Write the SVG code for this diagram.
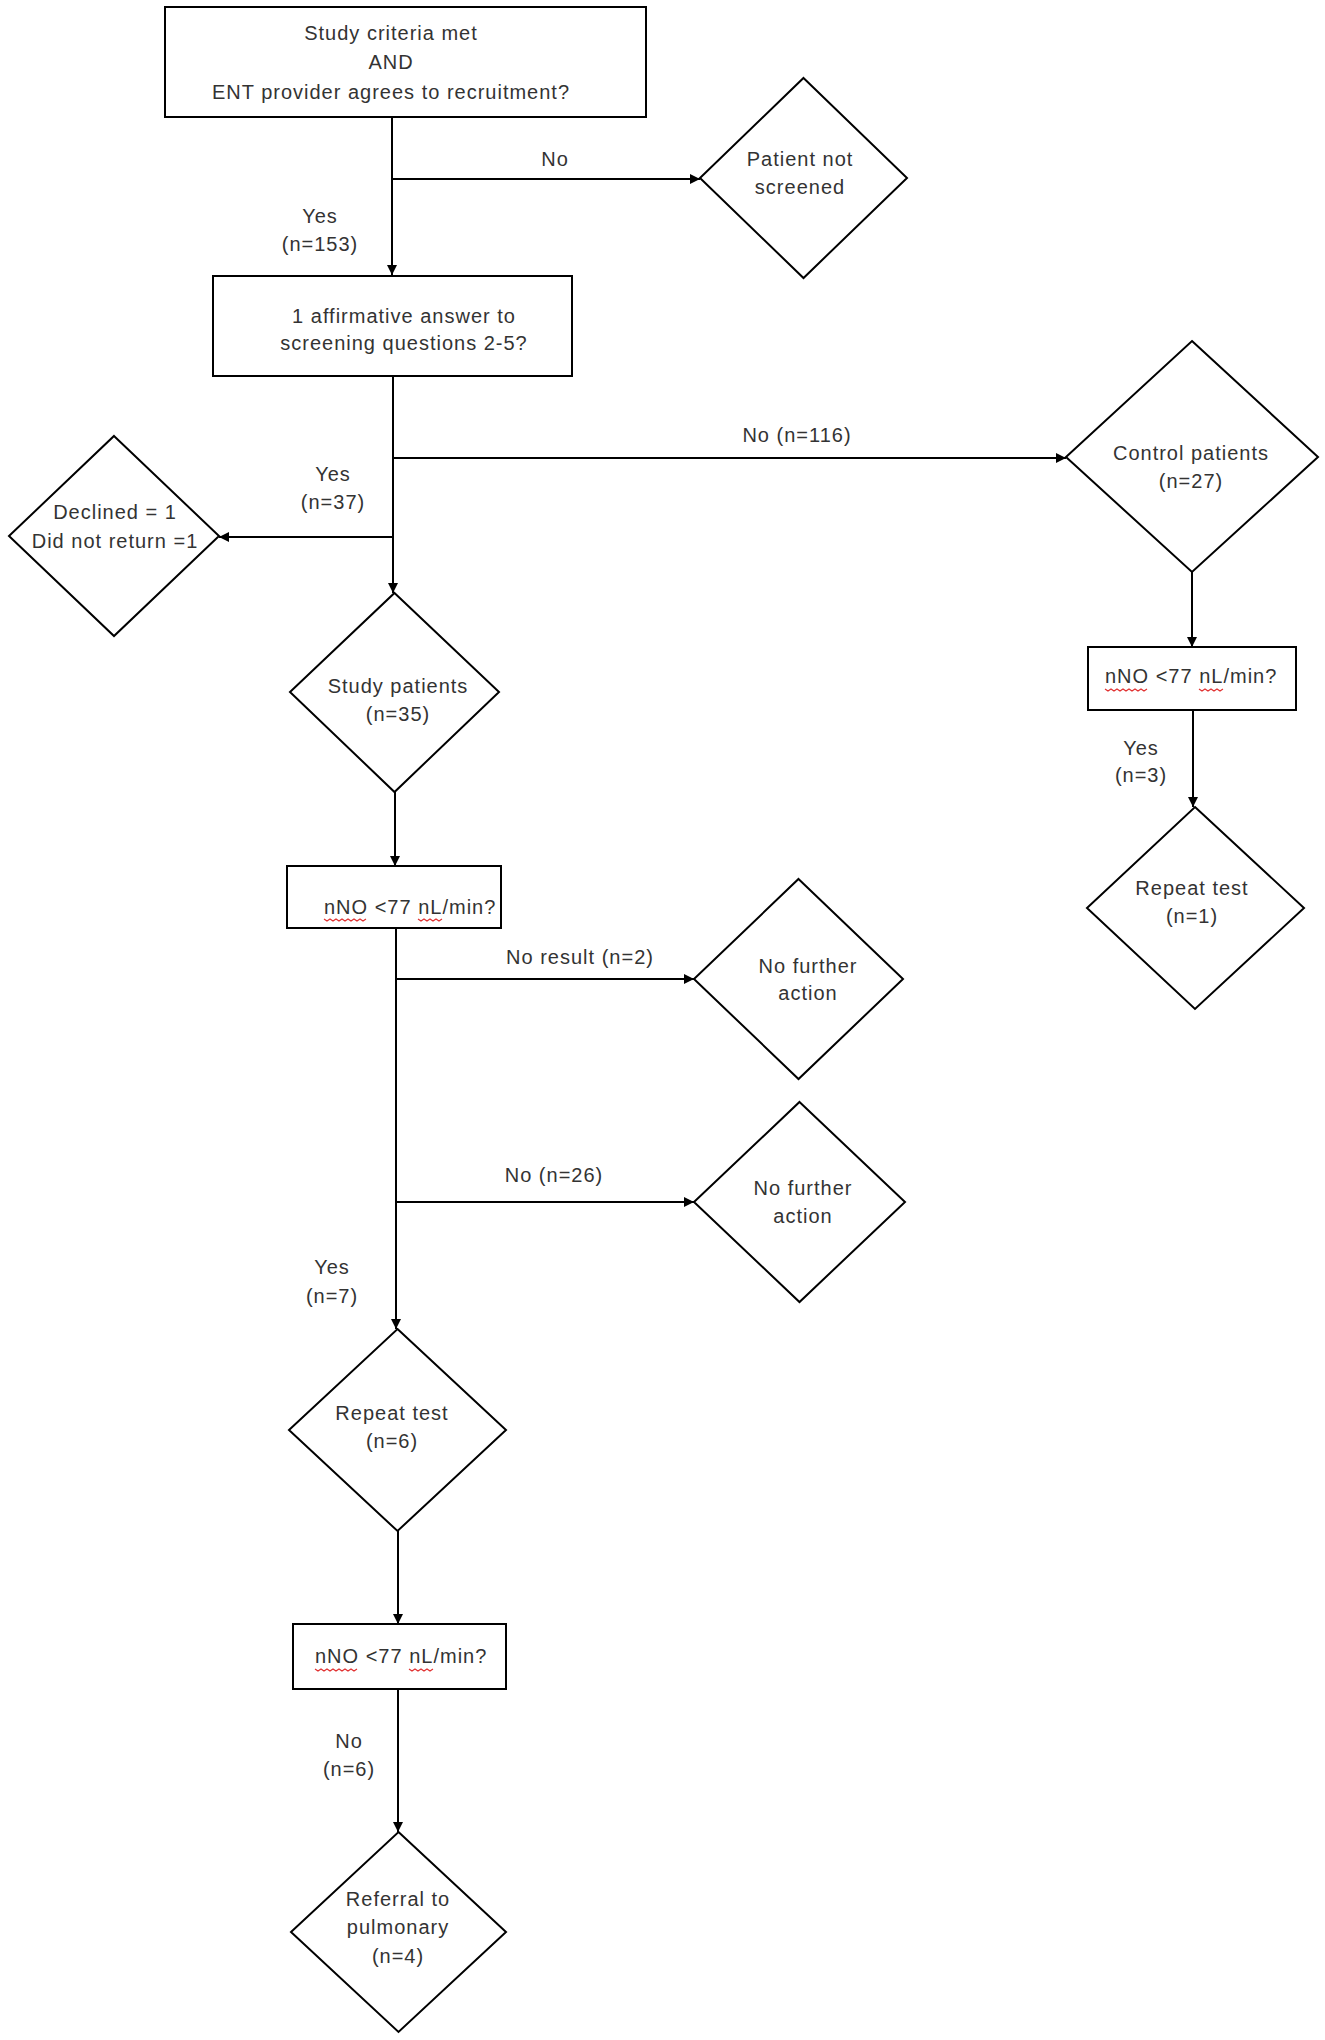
<svg xmlns="http://www.w3.org/2000/svg" width="1325" height="2040" viewBox="0 0 1325 2040">
<style>
.box{fill:#fff;stroke:#000;stroke-width:2}
.dia{fill:#fff;stroke:#000;stroke-width:2}
.t{font-family:"Liberation Sans",Arial,sans-serif;font-size:20px;letter-spacing:1px;fill:#333;text-anchor:middle}
.s{text-anchor:start}
.c{stroke:#000;stroke-width:2;fill:none}
.sq{stroke:#e03030;stroke-width:1.2;fill:none}
</style>
<defs>
<marker id="ah" viewBox="0 0 10 10" refX="10" refY="5" markerWidth="10" markerHeight="10" markerUnits="userSpaceOnUse" orient="auto">
<path d="M0,0 L10,5 L0,10 z" fill="#000"/>
</marker>
</defs>
<rect width="1325" height="2040" fill="#fff"/>

<g id="connectors">
<line class="c" x1="392" y1="117" x2="392" y2="275" marker-end="url(#ah)"/>
<line class="c" x1="392" y1="179" x2="700" y2="179" marker-end="url(#ah)"/>
<line class="c" x1="393" y1="376" x2="393" y2="593" marker-end="url(#ah)"/>
<line class="c" x1="393" y1="458" x2="1066" y2="458" marker-end="url(#ah)"/>
<line class="c" x1="393" y1="537" x2="219" y2="537" marker-end="url(#ah)"/>
<line class="c" x1="395" y1="792" x2="395" y2="866" marker-end="url(#ah)"/>
<line class="c" x1="396" y1="928" x2="396" y2="1329" marker-end="url(#ah)"/>
<line class="c" x1="396" y1="979" x2="694" y2="979" marker-end="url(#ah)"/>
<line class="c" x1="396" y1="1202" x2="694" y2="1202" marker-end="url(#ah)"/>
<line class="c" x1="398" y1="1531" x2="398" y2="1624" marker-end="url(#ah)"/>
<line class="c" x1="398" y1="1689" x2="398" y2="1832" marker-end="url(#ah)"/>
<line class="c" x1="1192" y1="572" x2="1192" y2="647" marker-end="url(#ah)"/>
<line class="c" x1="1193" y1="710" x2="1193" y2="807" marker-end="url(#ah)"/>
<text class="t" x="555" y="166">No</text>
<text class="t" x="320" y="223">Yes</text>
<text class="t" x="320" y="251">(n=153)</text>
<text class="t" x="797" y="442">No (n=116)</text>
<text class="t" x="333" y="481">Yes</text>
<text class="t" x="333" y="509">(n=37)</text>
<text class="t" x="580" y="964">No result (n=2)</text>
<text class="t" x="554" y="1182">No (n=26)</text>
<text class="t" x="332" y="1274">Yes</text>
<text class="t" x="332" y="1303">(n=7)</text>
<text class="t" x="349" y="1748">No</text>
<text class="t" x="349" y="1776">(n=6)</text>
<text class="t" x="1141" y="755">Yes</text>
<text class="t" x="1141" y="782">(n=3)</text>
</g>

<g id="criteria">
<rect class="box" x="165" y="7" width="481" height="110"/>
<text class="t" x="391" y="40">Study criteria met</text>
<text class="t" x="391" y="69">AND</text>
<text class="t" x="391" y="99">ENT provider agrees to recruitment?</text>
</g>

<g id="not-screened">
<polygon class="dia" points="803.5,78 907,178 803.5,278 700,178"/>
<text class="t" x="800" y="166">Patient not</text>
<text class="t" x="800" y="194">screened</text>
</g>

<g id="screening">
<rect class="box" x="213" y="276" width="359" height="100"/>
<text class="t" x="404" y="323">1 affirmative answer to</text>
<text class="t" x="404" y="350">screening questions 2-5?</text>
</g>

<g id="declined">
<polygon class="dia" points="114,436 219,536 114,636 9,536"/>
<text class="t" x="115" y="519">Declined = 1</text>
<text class="t" x="115" y="548">Did not return =1</text>
</g>

<g id="study-patients">
<polygon class="dia" points="394.5,593 499,692 394.5,792 290,692"/>
<text class="t" x="398" y="693">Study patients</text>
<text class="t" x="398" y="721">(n=35)</text>
</g>

<g id="nno-1">
<rect class="box" x="287" y="866" width="214" height="62"/>
<text class="t s" x="324" y="914">nNO &lt;77 nL/min?</text>
<path class="sq" d="M324,919 l3,2 l3,-2 l3,2 l3,-2 l3,2 l3,-2 l3,2 l3,-2 l3,2 l3,-2 l3,2 l3,-2 l3,2 l3,-2"/>
<path class="sq" d="M418,919 l3,2 l3,-2 l3,2 l3,-2 l3,2 l3,-2 l3,2 l3,-2"/>
</g>

<g id="no-action-1">
<polygon class="dia" points="798.5,879 903,979 798.5,1079 694,979"/>
<text class="t" x="808" y="973">No further</text>
<text class="t" x="808" y="1000">action</text>
</g>

<g id="no-action-2">
<polygon class="dia" points="799.5,1102 905,1202 799.5,1302 694,1202"/>
<text class="t" x="803" y="1195">No further</text>
<text class="t" x="803" y="1223">action</text>
</g>

<g id="repeat-6">
<polygon class="dia" points="397.5,1329 506,1430 397.5,1531 289,1430"/>
<text class="t" x="392" y="1420">Repeat test</text>
<text class="t" x="392" y="1448">(n=6)</text>
</g>

<g id="nno-2">
<rect class="box" x="293" y="1624" width="213" height="65"/>
<text class="t s" x="315" y="1663">nNO &lt;77 nL/min?</text>
<path class="sq" d="M315,1669 l3,2 l3,-2 l3,2 l3,-2 l3,2 l3,-2 l3,2 l3,-2 l3,2 l3,-2 l3,2 l3,-2 l3,2 l3,-2"/>
<path class="sq" d="M409,1669 l3,2 l3,-2 l3,2 l3,-2 l3,2 l3,-2 l3,2 l3,-2"/>
</g>

<g id="referral">
<polygon class="dia" points="398.5,1832 506,1932 398.5,2032 291,1932"/>
<text class="t" x="398" y="1906">Referral to</text>
<text class="t" x="398" y="1934">pulmonary</text>
<text class="t" x="398" y="1963">(n=4)</text>
</g>

<g id="control">
<polygon class="dia" points="1192,341 1318,457 1192,572 1066,457"/>
<text class="t" x="1191" y="460">Control patients</text>
<text class="t" x="1191" y="488">(n=27)</text>
</g>

<g id="nno-3">
<rect class="box" x="1088" y="647" width="208" height="63"/>
<text class="t s" x="1105" y="683">nNO &lt;77 nL/min?</text>
<path class="sq" d="M1105,689 l3,2 l3,-2 l3,2 l3,-2 l3,2 l3,-2 l3,2 l3,-2 l3,2 l3,-2 l3,2 l3,-2 l3,2 l3,-2"/>
<path class="sq" d="M1199,689 l3,2 l3,-2 l3,2 l3,-2 l3,2 l3,-2 l3,2 l3,-2"/>
</g>

<g id="repeat-1">
<polygon class="dia" points="1195,807 1304,908 1195,1009 1087,908"/>
<text class="t" x="1192" y="895">Repeat test</text>
<text class="t" x="1192" y="923">(n=1)</text>
</g>
</svg>
